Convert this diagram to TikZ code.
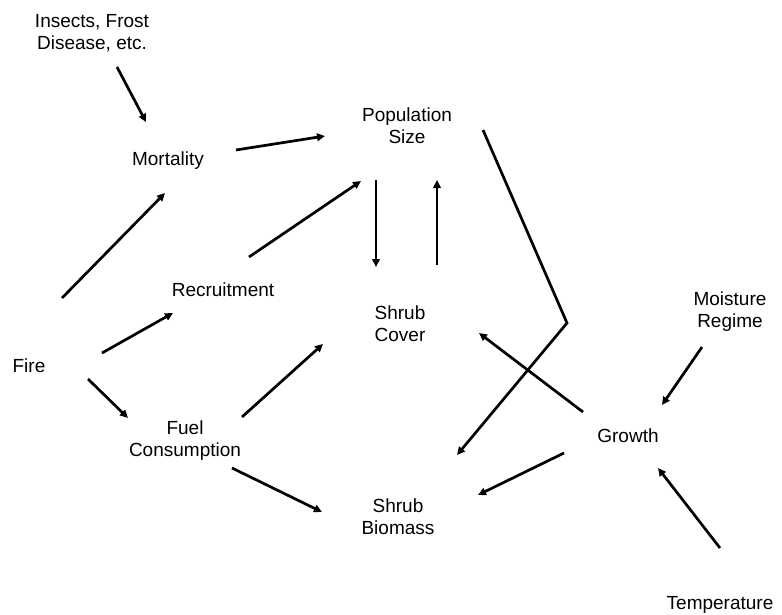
\documentclass[tikz,border=0pt]{standalone}
\usepackage{fontspec}
\setmainfont{Liberation Sans}
\usetikzlibrary{arrows.meta,calc}
\begin{document}
\begin{tikzpicture}[x=1pt,y=-1pt,
  lbl/.style={align=center,inner sep=0pt,font=\fontsize{19}{22}\selectfont},
  arr/.style={line width=2.7pt,-{Triangle[length=8pt,width=7.5pt]}},
  ln/.style={line width=2.7pt}]
\useasboundingbox (0,0) rectangle (782,615);
\node[lbl] (ins)  at (92,33)  {Insects, Frost\\Disease, etc.};
\node[lbl] (mort) at (168,161) {Mortality};
\node[lbl] (pop)  at (407,126) {Population\\Size};
\node[lbl] (rec)  at (223,290) {Recruitment};
\node[lbl] (cov)  at (400,324) {Shrub\\Cover};
\node[lbl] (fire) at (29,366)  {Fire};
\node[lbl] (fuel) at (185,441) {Fuel\\Consumption};
\node[lbl] (bio)  at (398,517) {Shrub\\Biomass};
\node[lbl] (moi)  at (730,312) {Moisture\\Regime};
\node[lbl] (gro)  at (628,436) {Growth};
\node[lbl] (tem)  at (720,605) {Temperature};
\coordinate (bend) at (567,323);

\draw[arr] ($(ins)+(25,34)$) -- ($(mort)+(-22,-39)$);
\draw[arr] ($(mort)+(68,-11)$) -- ($(pop)+(-82,10)$);
\draw[arr] ($(fire)+(33,-68)$) -- ($(mort)+(-3,32)$);
\draw[arr] ($(rec)+(26,-33)$) -- ($(pop)+(-46,55)$);
\draw[arr] ($(pop)+(-31,54)$) -- ($(cov)+(-24,-57)$);
\draw[arr] ($(cov)+(37,-59)$) -- ($(pop)+(30,54)$);
\draw[arr,line join=miter] ($(pop)+(76,4)$) -- (bend) -- ($(bio)+(59,-62)$);
\draw[arr] ($(gro)+(-45,-24)$) -- ($(cov)+(79,9)$);
\draw[arr] ($(gro)+(-64,17)$) -- ($(bio)+(80,-22)$);
\draw[arr] ($(moi)+(-28,35)$) -- ($(gro)+(34,-31)$);
\draw[arr] ($(tem)+(0,-57)$) -- ($(gro)+(30,32)$);
\draw[arr] ($(fire)+(73,-13)$) -- ($(rec)+(-50,23)$);
\draw[arr] ($(fire)+(59,13)$) -- ($(fuel)+(-57,-23)$);
\draw[arr] ($(fuel)+(57,-24)$) -- ($(cov)+(-77,20)$);
\draw[arr] ($(fuel)+(47,27)$) -- ($(bio)+(-76,-5)$);
\end{tikzpicture}
\end{document}
